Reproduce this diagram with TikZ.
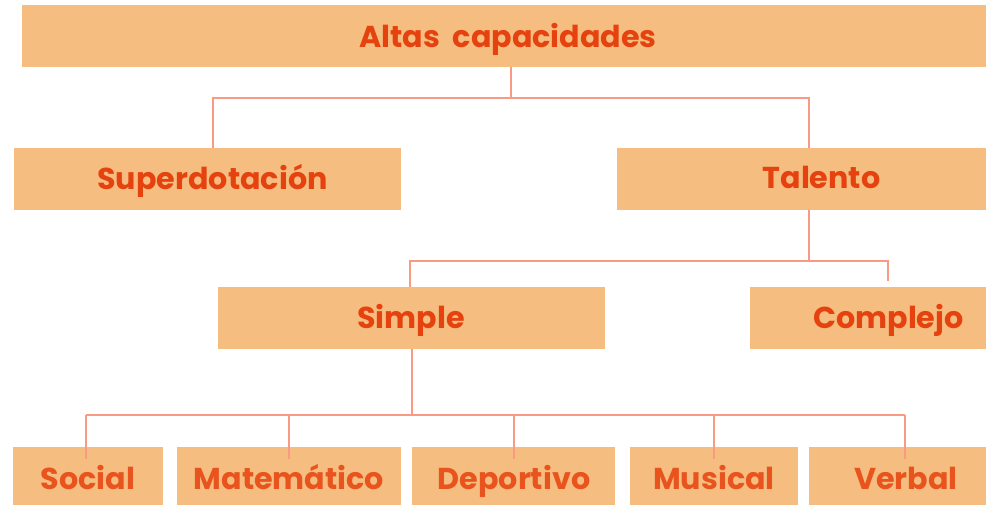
\documentclass[tikz,border=0pt]{standalone}
\usepackage{fontspec}
\setmainfont{Poppins}
\definecolor{boxfill}{HTML}{F5BE80}
\definecolor{txtA}{HTML}{E5420F}
\definecolor{txtB}{HTML}{E9531E}
\definecolor{linec}{HTML}{FA9A85}
\begin{document}
\begin{tikzpicture}[x=1pt,y=-1pt,
  box/.style={fill=boxfill,draw=none,inner sep=0pt,anchor=north west},
  lbl/.style={text=txtA,font=\fontsize{30.2}{32}\selectfont\bfseries,inner sep=0pt,anchor=base},
  lblb/.style={lbl,text=txtB},
  conn/.style={draw=linec,line width=1.1pt}]
\useasboundingbox (0,0) rectangle (986,505);
% boxes
\node[box,minimum width=964pt,minimum height=62pt] (alt) at (22,5) {};
\node[box,minimum width=387pt,minimum height=62pt] (sup) at (14,148) {};
\node[box,minimum width=369pt,minimum height=62pt] (tal) at (617,148) {};
\node[box,minimum width=387pt,minimum height=62pt] (sim) at (218,287) {};
\node[box,minimum width=236pt,minimum height=62pt] (com) at (750,287) {};
\node[box,minimum width=150pt,minimum height=58pt] (soc) at (13,447) {};
\node[box,minimum width=224pt,minimum height=58pt] (mat) at (177,447) {};
\node[box,minimum width=203pt,minimum height=58pt] (dep) at (412,447) {};
\node[box,minimum width=168pt,minimum height=58pt] (mus) at (630,447) {};
\node[box,minimum width=177pt,minimum height=58pt] (ver) at (809,447) {};
% labels
\node[lbl] (altt) at (508,48) {Altas\ \ capacidades};
\node[lbl] (supt) at (212.5,190) {Superdotación};
\node[lbl] (talt) at (821.5,189) {Talento};
\node[lbl] (simt) at (411,329) {Simple};
\node[lbl] (comt) at (888.5,328) {Complejo};
\node[lblb] (soct) at (88,489) {Social};
\node[lblb] (matt) at (289,489) {Matemático};
\node[lblb] (dept) at (514,489) {Deportivo};
\node[lblb] (must) at (714,489) {Musical};
\node[lblb] (vert) at (906,489) {Verbal};
% junction coordinates
\coordinate (j1) at (511,98);
\coordinate (ls) at (213,98);
\coordinate (lt) at (809,98);
\coordinate (j2) at (809,261);
\coordinate (ms) at (410,261);
\coordinate (mc) at (888,261);
\coordinate (mcend) at (888,281);
\coordinate (j3) at (412,415);
\coordinate (b1) at (86,415);
\coordinate (b2) at (289,415);
\coordinate (b3) at (514,415);
\coordinate (b4) at (714,415);
\coordinate (b5) at (905,415);
% connectors
\draw[conn] (alt.south -| j1) -- (j1);
\draw[conn] (sup.north -| ls) -- (ls) -- (lt) -- (tal.north -| lt);
\draw[conn] (tal.south -| j2) -- (j2);
\draw[conn] (sim.north -| ms) -- (ms) -- (mc) -- (mcend);
\draw[conn] (sim.south -| j3) -- (j3);
\draw[conn] (b1) -- (b5);
\draw[conn] (b1) -- ([yshift=-12pt]soc.north -| b1);
\draw[conn] (b2) -- ([yshift=-12pt]mat.north -| b2);
\draw[conn] (b3) -- ([yshift=-12pt]dep.north -| b3);
\draw[conn] (b4) -- ([yshift=-12pt]mus.north -| b4);
\draw[conn] (b5) -- ([yshift=-12pt]ver.north -| b5);
\end{tikzpicture}
\end{document}
